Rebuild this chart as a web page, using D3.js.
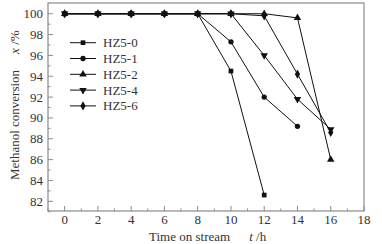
<!DOCTYPE html>
<html>
<head>
<meta charset="utf-8">
<script src="https://cdn.jsdelivr.net/npm/d3@7"></script>
</head>
<body style="margin:0;background:#fff">
<div id="chart"></div>
<script>
const width = 382;
const height = 244;
const margin = { top: 3, right: 18, bottom: 33, left: 48 };
const FONT = '"Liberation Serif"';

// Data
const hours = [0, 2, 4, 6, 8, 10, 12, 14, 16];
const seriesNames = ["HZ5-0", "HZ5-1", "HZ5-2", "HZ5-4", "HZ5-6"];
const hz50 = [100, 100, 100, 100, 100, 94.5, 82.6];
const hz51 = [100, 100, 100, 100, 100, 97.3, 92.0, 89.2];
const hz52 = [100, 100, 100, 100, 100, 100, 100, 99.6, 86.0];
const hz54 = [100, 100, 100, 100, 100, 100, 96.0, 91.8, 88.9];
const hz56 = [100, 100, 100, 100, 100, 100, 99.8, 94.2, 88.6];
const xTicks = [0, 2, 4, 6, 8, 10, 12, 14, 16, 18];
const yTicks = [82, 84, 86, 88, 90, 92, 94, 96, 98, 100];

const seriesValues = [hz50, hz51, hz52, hz54, hz56];
const symbols = [d3.symbolSquare, d3.symbolCircle, d3.symbolTriangle, d3.symbolTriangle, d3.symbolDiamond];
const symbolSizes = [22, 22, 24, 24, 24];
const symbolRot = [0, 0, 0, 180, 0];

const svg = d3.select("#chart").append("svg")
  .attr("width", width)
  .attr("height", height);

const x = d3.scaleLinear().domain([-1, 18]).range([margin.left, width - margin.right]);
const y = d3.scaleLinear().domain([81.07, 101.03]).range([height - margin.bottom, margin.top]);

const frameColor = "#8a8a8a";
const textColor = "#333";

// Frame
svg.append("rect")
  .attr("x", x.range()[0]).attr("y", y.range()[1])
  .attr("width", x.range()[1] - x.range()[0])
  .attr("height", y.range()[0] - y.range()[1])
  .attr("fill", "none").attr("stroke", frameColor).attr("stroke-width", 1.2);

// X axis, ticks inward
const xAxis = svg.append("g").attr("transform", `translate(0,${y.range()[0]})`);
xAxis.selectAll("line.minor")
  .data(d3.range(-1, 18, 2))
  .join("line")
  .attr("x1", d => x(d)).attr("x2", d => x(d))
  .attr("y1", 0).attr("y2", -2.5)
  .attr("stroke", frameColor);
xAxis.selectAll("line.major")
  .data(xTicks)
  .join("line")
  .attr("x1", d => x(d)).attr("x2", d => x(d))
  .attr("y1", 0).attr("y2", -5)
  .attr("stroke", frameColor);
xAxis.selectAll("text")
  .data(xTicks)
  .join("text")
  .attr("x", d => x(d)).attr("y", 13)
  .attr("text-anchor", "middle")
  .style("font-family", FONT)
  .attr("font-size", 13)
  .attr("fill", textColor)
  .text(d => d);

// Y axis, ticks inward
const yAxis = svg.append("g").attr("transform", `translate(${x.range()[0]},0)`);
yAxis.selectAll("line.minor")
  .data(d3.range(81, 101, 2))
  .join("line")
  .attr("y1", d => y(d)).attr("y2", d => y(d))
  .attr("x1", 0).attr("x2", 2.5)
  .attr("stroke", frameColor);
yAxis.selectAll("line.major")
  .data(yTicks)
  .join("line")
  .attr("y1", d => y(d)).attr("y2", d => y(d))
  .attr("x1", 0).attr("x2", 5)
  .attr("stroke", frameColor);
yAxis.selectAll("text")
  .data(yTicks)
  .join("text")
  .attr("x", -5).attr("y", d => y(d))
  .attr("dy", "0.35em")
  .attr("text-anchor", "end")
  .style("font-family", FONT)
  .attr("font-size", 13)
  .attr("fill", textColor)
  .text(d => d);

// Axis titles
const xTitle = svg.append("text")
  .attr("x", 149).attr("y", 241)
  .style("font-family", FONT)
  .attr("font-size", 13)
  .attr("fill", textColor);
xTitle.append("tspan").text("Time on stream");
xTitle.append("tspan").attr("dx", 19).attr("font-style", "italic").text("t");
xTitle.append("tspan").text(" /h");

const yTitle = svg.append("text")
  .attr("transform", `translate(19,180) rotate(-90)`)
  .style("font-family", FONT)
  .attr("font-size", 13)
  .attr("fill", textColor);
yTitle.append("tspan").text("Methanol conversion");
yTitle.append("tspan").attr("dx", 16).attr("font-style", "italic").text("x");
yTitle.append("tspan").text(" /%");

// Series
const line = d3.line().x((d, i) => x(hours[i])).y(d => y(d));
seriesValues.forEach((vals, k) => {
  const g = svg.append("g");
  g.append("path")
    .attr("d", line(vals))
    .attr("fill", "none")
    .attr("stroke", "#111")
    .attr("stroke-width", 1);
  g.selectAll("path.pt")
    .data(vals)
    .join("path")
    .attr("class", "pt")
    .attr("transform", (d, i) => `translate(${x(hours[i])},${y(d)}) rotate(${symbolRot[k]})`)
    .attr("d", d3.symbol(symbols[k], symbolSizes[k]))
    .attr("fill", "#111");
});

// Legend
const legend = svg.append("g");
seriesNames.forEach((name, k) => {
  const ly = 42.7 + k * 15.8;
  legend.append("line")
    .attr("x1", 70).attr("x2", 96).attr("y1", ly).attr("y2", ly)
    .attr("stroke", "#111");
  legend.append("path")
    .attr("transform", `translate(83,${ly}) rotate(${symbolRot[k]})`)
    .attr("d", d3.symbol(symbols[k], symbolSizes[k]))
    .attr("fill", "#111");
  legend.append("text")
    .attr("x", 103).attr("y", ly)
    .attr("dy", "0.35em")
    .style("font-family", FONT)
    .attr("font-size", 13)
    .attr("fill", textColor)
    .text(name);
});
</script>
</body>
</html>
